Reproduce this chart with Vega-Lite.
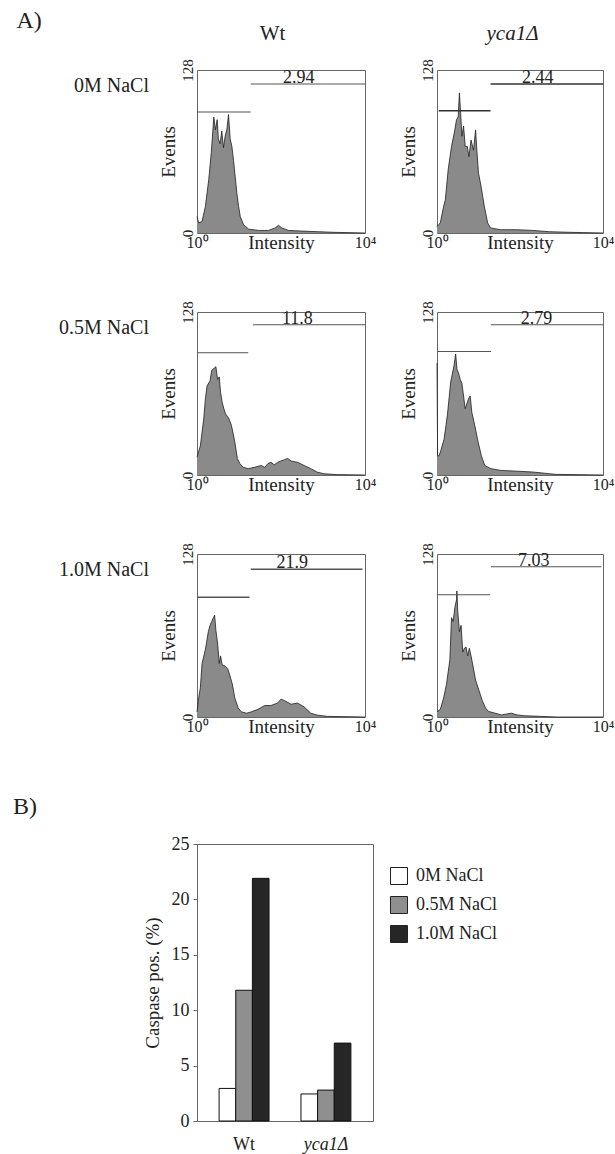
{
 "$schema": "https://vega.github.io/schema/vega-lite/v6.json",
 "padding": {"left": 12, "top": 8, "right": 5, "bottom": 5},
 "background": "white",
 "config": {
  "font": "Liberation Serif",
  "view": {"stroke": "#666"},
  "axis": {"labelColor": "#222", "titleColor": "#222", "titleFontWeight": "normal", "labelFont": "Liberation Serif", "titleFont": "Liberation Serif", "domainColor": "#666", "tickColor": "#666", "grid": false},
  "title": {"fontWeight": "normal", "color": "#222", "font": "Liberation Serif"},
  "legend": {"labelFont": "Liberation Serif", "labelColor": "#222"}
 },
 "datasets": {
  "hist": [
   {"p":"w0","x":0,"y":13},{"p":"w0","x":0.04,"y":8},{"p":"w0","x":0.12,"y":9},{"p":"w0","x":0.2,"y":21},{"p":"w0","x":0.28,"y":42},{"p":"w0","x":0.34,"y":63},{"p":"w0","x":0.4,"y":91},{"p":"w0","x":0.44,"y":81},{"p":"w0","x":0.48,"y":89},{"p":"w0","x":0.51,"y":74},{"p":"w0","x":0.55,"y":70},{"p":"w0","x":0.59,"y":80},{"p":"w0","x":0.63,"y":67},{"p":"w0","x":0.67,"y":76},{"p":"w0","x":0.71,"y":81},{"p":"w0","x":0.75,"y":93},{"p":"w0","x":0.79,"y":74},{"p":"w0","x":0.83,"y":68},{"p":"w0","x":0.87,"y":57},{"p":"w0","x":0.91,"y":44},{"p":"w0","x":0.95,"y":31},{"p":"w0","x":0.99,"y":21},{"p":"w0","x":1.03,"y":13},{"p":"w0","x":1.11,"y":6.5},{"p":"w0","x":1.23,"y":3},{"p":"w0","x":1.47,"y":2},{"p":"w0","x":1.7,"y":2},{"p":"w0","x":1.86,"y":4},{"p":"w0","x":1.94,"y":6},{"p":"w0","x":2.02,"y":4},{"p":"w0","x":2.18,"y":2},{"p":"w0","x":2.5,"y":1.5},{"p":"w0","x":2.89,"y":1},{"p":"w0","x":3.29,"y":0.5},{"p":"w0","x":4,"y":0},
   {"p":"w5","x":0,"y":14},{"p":"w5","x":0.08,"y":23},{"p":"w5","x":0.16,"y":44},{"p":"w5","x":0.2,"y":60},{"p":"w5","x":0.24,"y":70},{"p":"w5","x":0.31,"y":74},{"p":"w5","x":0.35,"y":82},{"p":"w5","x":0.41,"y":84},{"p":"w5","x":0.45,"y":85},{"p":"w5","x":0.49,"y":75},{"p":"w5","x":0.53,"y":77},{"p":"w5","x":0.56,"y":65},{"p":"w5","x":0.6,"y":57},{"p":"w5","x":0.64,"y":52},{"p":"w5","x":0.68,"y":48},{"p":"w5","x":0.75,"y":45},{"p":"w5","x":0.82,"y":39},{"p":"w5","x":0.9,"y":26},{"p":"w5","x":0.96,"y":13},{"p":"w5","x":1.02,"y":9},{"p":"w5","x":1.1,"y":6},{"p":"w5","x":1.22,"y":5},{"p":"w5","x":1.37,"y":6},{"p":"w5","x":1.53,"y":7.5},{"p":"w5","x":1.61,"y":6},{"p":"w5","x":1.69,"y":9},{"p":"w5","x":1.76,"y":10},{"p":"w5","x":1.84,"y":8},{"p":"w5","x":1.92,"y":10},{"p":"w5","x":2.0,"y":11},{"p":"w5","x":2.08,"y":12},{"p":"w5","x":2.16,"y":13},{"p":"w5","x":2.24,"y":11},{"p":"w5","x":2.39,"y":10},{"p":"w5","x":2.55,"y":7.5},{"p":"w5","x":2.71,"y":5},{"p":"w5","x":2.86,"y":2.3},{"p":"w5","x":3.02,"y":1},{"p":"w5","x":3.33,"y":0.3},{"p":"w5","x":4,"y":0},
   {"p":"w1","x":0,"y":4},{"p":"w1","x":0.04,"y":15},{"p":"w1","x":0.08,"y":23},{"p":"w1","x":0.12,"y":42},{"p":"w1","x":0.2,"y":53},{"p":"w1","x":0.27,"y":67},{"p":"w1","x":0.31,"y":72},{"p":"w1","x":0.35,"y":75},{"p":"w1","x":0.39,"y":78},{"p":"w1","x":0.42,"y":80},{"p":"w1","x":0.45,"y":68},{"p":"w1","x":0.49,"y":58},{"p":"w1","x":0.53,"y":42},{"p":"w1","x":0.56,"y":48},{"p":"w1","x":0.6,"y":41},{"p":"w1","x":0.67,"y":40},{"p":"w1","x":0.73,"y":38},{"p":"w1","x":0.78,"y":33},{"p":"w1","x":0.84,"y":26},{"p":"w1","x":0.9,"y":15},{"p":"w1","x":0.98,"y":7},{"p":"w1","x":1.06,"y":4},{"p":"w1","x":1.18,"y":3},{"p":"w1","x":1.29,"y":4},{"p":"w1","x":1.45,"y":6},{"p":"w1","x":1.61,"y":9},{"p":"w1","x":1.76,"y":9},{"p":"w1","x":1.92,"y":11},{"p":"w1","x":2.0,"y":14},{"p":"w1","x":2.08,"y":13},{"p":"w1","x":2.24,"y":10},{"p":"w1","x":2.39,"y":11},{"p":"w1","x":2.55,"y":8},{"p":"w1","x":2.71,"y":3},{"p":"w1","x":2.86,"y":1.5},{"p":"w1","x":3.1,"y":0.5},{"p":"w1","x":4,"y":0},
   {"p":"y0","x":0,"y":5},{"p":"y0","x":0.08,"y":8},{"p":"y0","x":0.16,"y":21},{"p":"y0","x":0.2,"y":26},{"p":"y0","x":0.27,"y":50},{"p":"y0","x":0.35,"y":68},{"p":"y0","x":0.43,"y":81},{"p":"y0","x":0.47,"y":89},{"p":"y0","x":0.51,"y":91},{"p":"y0","x":0.54,"y":110},{"p":"y0","x":0.57,"y":94},{"p":"y0","x":0.6,"y":76},{"p":"y0","x":0.64,"y":84},{"p":"y0","x":0.68,"y":68},{"p":"y0","x":0.73,"y":68},{"p":"y0","x":0.77,"y":60},{"p":"y0","x":0.82,"y":73},{"p":"y0","x":0.88,"y":65},{"p":"y0","x":0.93,"y":81},{"p":"y0","x":0.96,"y":65},{"p":"y0","x":1.0,"y":47},{"p":"y0","x":1.06,"y":37},{"p":"y0","x":1.14,"y":21},{"p":"y0","x":1.22,"y":8},{"p":"y0","x":1.29,"y":4},{"p":"y0","x":1.53,"y":2.6},{"p":"y0","x":1.92,"y":2.6},{"p":"y0","x":2.31,"y":2},{"p":"y0","x":2.71,"y":1},{"p":"y0","x":3.25,"y":0.5},{"p":"y0","x":4,"y":0},
   {"p":"y5","x":0,"y":88},{"p":"y5","x":0.015,"y":15},{"p":"y5","x":0.05,"y":15},{"p":"y5","x":0.09,"y":19},{"p":"y5","x":0.17,"y":28},{"p":"y5","x":0.25,"y":47},{"p":"y5","x":0.33,"y":73},{"p":"y5","x":0.41,"y":86},{"p":"y5","x":0.45,"y":95},{"p":"y5","x":0.48,"y":83},{"p":"y5","x":0.52,"y":80},{"p":"y5","x":0.56,"y":75},{"p":"y5","x":0.6,"y":72},{"p":"y5","x":0.68,"y":52},{"p":"y5","x":0.76,"y":60},{"p":"y5","x":0.8,"y":62},{"p":"y5","x":0.84,"y":49},{"p":"y5","x":0.91,"y":39},{"p":"y5","x":0.99,"y":26},{"p":"y5","x":1.07,"y":15},{"p":"y5","x":1.15,"y":7.5},{"p":"y5","x":1.3,"y":5},{"p":"y5","x":1.54,"y":3.6},{"p":"y5","x":1.93,"y":3},{"p":"y5","x":2.32,"y":2.3},{"p":"y5","x":2.71,"y":1},{"p":"y5","x":2.87,"y":0.5},{"p":"y5","x":4,"y":0},
   {"p":"y1","x":0,"y":4},{"p":"y1","x":0.08,"y":6},{"p":"y1","x":0.16,"y":15},{"p":"y1","x":0.23,"y":26},{"p":"y1","x":0.31,"y":45},{"p":"y1","x":0.35,"y":78},{"p":"y1","x":0.39,"y":75},{"p":"y1","x":0.43,"y":86},{"p":"y1","x":0.47,"y":92},{"p":"y1","x":0.48,"y":99},{"p":"y1","x":0.5,"y":83},{"p":"y1","x":0.54,"y":67},{"p":"y1","x":0.58,"y":72},{"p":"y1","x":0.62,"y":51},{"p":"y1","x":0.66,"y":54},{"p":"y1","x":0.7,"y":55},{"p":"y1","x":0.74,"y":48},{"p":"y1","x":0.78,"y":54},{"p":"y1","x":0.82,"y":48},{"p":"y1","x":0.85,"y":43},{"p":"y1","x":0.93,"y":29},{"p":"y1","x":1.01,"y":21},{"p":"y1","x":1.09,"y":13},{"p":"y1","x":1.17,"y":7},{"p":"y1","x":1.24,"y":4.4},{"p":"y1","x":1.4,"y":3},{"p":"y1","x":1.55,"y":1.6},{"p":"y1","x":1.79,"y":3},{"p":"y1","x":1.94,"y":1.6},{"p":"y1","x":2.1,"y":1},{"p":"y1","x":2.49,"y":0.5},{"p":"y1","x":2.87,"y":0},{"p":"y1","x":4,"y":0}
  ],
  "gate": [
   {"p":"w0","a":0,"b":1.28,"y":95},{"p":"w0","a":1.28,"b":4,"y":117,"lab":"2.94","lx":2.42},
   {"p":"w5","a":0,"b":1.22,"y":96},{"p":"w5","a":1.33,"b":4,"y":118,"lab":"11.8","lx":2.39},
   {"p":"w1","a":0,"b":1.25,"y":94},{"p":"w1","a":1.28,"b":3.94,"y":116,"lab":"21.9","lx":2.27},
   {"p":"y0","a":0.04,"b":1.29,"y":96},{"p":"y0","a":1.29,"b":4,"y":117,"lab":"2.44","lx":2.43},
   {"p":"y5","a":0,"b":1.3,"y":97},{"p":"y5","a":1.3,"b":4,"y":118,"lab":"2.79","lx":2.4},
   {"p":"y1","a":0,"b":1.28,"y":96},{"p":"y1","a":1.3,"b":3.96,"y":118,"lab":"7.03","lx":2.33}
  ],
  "bars": [
   {"strain":"Wt","salt":"0M NaCl","pct":2.94},
   {"strain":"Wt","salt":"0.5M NaCl","pct":11.8},
   {"strain":"Wt","salt":"1.0M NaCl","pct":21.9},
   {"strain":"yca1Δ","salt":"0M NaCl","pct":2.44},
   {"strain":"yca1Δ","salt":"0.5M NaCl","pct":2.79},
   {"strain":"yca1Δ","salt":"1.0M NaCl","pct":7.03}
  ]
 },
 "columns": 1,
 "align": "none",
 "spacing": 57,
 "resolve": {"legend": {"fill": "independent"}},
 "concat": [
  {
   "title": {"text": "A)", "anchor": "start", "dx": -42, "offset": -11, "fontSize": 24},
   "columns": 2,
   "bounds": "flush",
   "spacing": {"row": 79, "column": 72},
   "concat": [
    {
     "width": 168, "height": 163,
     "title": {"text": "0M NaCl", "orient": "left", "frame": "group", "angle": 0, "anchor": "end", "align": "left", "baseline": "top", "offset": 10, "dy": 6, "fontSize": 20},
     "resolve": {"axis": {"x": "independent"}},
     "layer": [
      {"data": {"name": "hist"}, "transform": [{"filter": "datum.p === 'w0'"}],
       "mark": {"type": "area", "color": "#8a8a8a", "opacity": 1, "line": {"color": "#1e1e1e", "strokeWidth": 0.8}},
       "encoding": {
        "x": {"field": "x", "type": "quantitative", "scale": {"domain": [0, 4], "nice": false}, "axis": {"values": [0, 4], "labelExpr": "datum.value === 0 ? '10⁰' : '10⁴'", "title": "Intensity", "titleFontSize": 19, "titlePadding": -17, "labelFontSize": 16, "labelFlush": false, "ticks": false, "domain": false, "labelPadding": 1}},
        "y": {"field": "y", "type": "quantitative", "scale": {"domain": [0, 128], "nice": false}, "axis": {"values": [0, 128], "title": "Events", "titleFontSize": 19, "labelAngle": 270, "labelFontSize": 15, "ticks": false, "domain": false, "labelPadding": 2, "titlePadding": 2}}
       }},
      {"data": {"name": "gate"}, "transform": [{"filter": "datum.p === 'w0'"}],
       "mark": {"type": "rule", "color": "#555", "strokeWidth": 1.2},
       "encoding": {
        "x": {"field": "a", "type": "quantitative", "scale": {"domain": [0, 4], "nice": false}, "axis": {"orient": "top", "title": "Wt", "titleFontSize": 21, "titleX": 75, "labels": false, "ticks": false, "domain": false, "titlePadding": 27}},
        "x2": {"field": "b"},
        "y": {"field": "y", "type": "quantitative"}
       }},
      {"data": {"name": "gate"}, "transform": [{"filter": "datum.p === 'w0' && datum.lab"}],
       "mark": {"type": "text", "fontSize": 18, "baseline": "alphabetic", "dy": -1, "color": "#222"},
       "encoding": {
        "x": {"field": "lx", "type": "quantitative", "axis": null},
        "y": {"field": "y", "type": "quantitative"},
        "text": {"field": "lab"}
       }}
     ]
    },
    {
     "width": 166, "height": 163,
     "resolve": {"axis": {"x": "independent"}},
     "layer": [
      {"data": {"name": "hist"}, "transform": [{"filter": "datum.p === 'y0'"}],
       "mark": {"type": "area", "color": "#8a8a8a", "opacity": 1, "line": {"color": "#1e1e1e", "strokeWidth": 0.8}},
       "encoding": {
        "x": {"field": "x", "type": "quantitative", "scale": {"domain": [0, 4], "nice": false}, "axis": {"values": [0, 4], "labelExpr": "datum.value === 0 ? '10⁰' : '10⁴'", "title": "Intensity", "titleFontSize": 19, "titlePadding": -17, "labelFontSize": 16, "labelFlush": false, "ticks": false, "domain": false, "labelPadding": 1}},
        "y": {"field": "y", "type": "quantitative", "scale": {"domain": [0, 128], "nice": false}, "axis": {"values": [0, 128], "title": "Events", "titleFontSize": 19, "labelAngle": 270, "labelFontSize": 15, "ticks": false, "domain": false, "labelPadding": 2, "titlePadding": 2}}
       }},
      {"data": {"name": "gate"}, "transform": [{"filter": "datum.p === 'y0'"}],
       "mark": {"type": "rule", "color": "#333", "strokeWidth": 1.4},
       "encoding": {
        "x": {"field": "a", "type": "quantitative", "scale": {"domain": [0, 4], "nice": false}, "axis": {"orient": "top", "title": "yca1Δ", "titleFontStyle": "italic", "titleFontSize": 21, "titleX": 75, "labels": false, "ticks": false, "domain": false, "titlePadding": 27}},
        "x2": {"field": "b"},
        "y": {"field": "y", "type": "quantitative"}
       }},
      {"data": {"name": "gate"}, "transform": [{"filter": "datum.p === 'y0' && datum.lab"}],
       "mark": {"type": "text", "fontSize": 18, "baseline": "alphabetic", "dy": -1, "color": "#222"},
       "encoding": {
        "x": {"field": "lx", "type": "quantitative", "axis": null},
        "y": {"field": "y", "type": "quantitative"},
        "text": {"field": "lab"}
       }}
     ]
    },
    {
     "width": 168, "height": 163,
     "title": {"text": "0.5M NaCl", "orient": "left", "frame": "group", "angle": 0, "anchor": "end", "align": "left", "baseline": "top", "offset": 10, "dy": 6, "fontSize": 20},
     "layer": [
      {"data": {"name": "hist"}, "transform": [{"filter": "datum.p === 'w5'"}],
       "mark": {"type": "area", "color": "#8a8a8a", "opacity": 1, "line": {"color": "#1e1e1e", "strokeWidth": 0.8}},
       "encoding": {
        "x": {"field": "x", "type": "quantitative", "scale": {"domain": [0, 4], "nice": false}, "axis": {"values": [0, 4], "labelExpr": "datum.value === 0 ? '10⁰' : '10⁴'", "title": "Intensity", "titleFontSize": 19, "titlePadding": -17, "labelFontSize": 16, "labelFlush": false, "ticks": false, "domain": false, "labelPadding": 1}},
        "y": {"field": "y", "type": "quantitative", "scale": {"domain": [0, 128], "nice": false}, "axis": {"values": [0, 128], "title": "Events", "titleFontSize": 19, "labelAngle": 270, "labelFontSize": 15, "ticks": false, "domain": false, "labelPadding": 2, "titlePadding": 2}}
       }},
      {"data": {"name": "gate"}, "transform": [{"filter": "datum.p === 'w5'"}],
       "mark": {"type": "rule", "color": "#555", "strokeWidth": 1.2},
       "encoding": {
        "x": {"field": "a", "type": "quantitative", "scale": {"domain": [0, 4], "nice": false}},
        "x2": {"field": "b"},
        "y": {"field": "y", "type": "quantitative"}
       }},
      {"data": {"name": "gate"}, "transform": [{"filter": "datum.p === 'w5' && datum.lab"}],
       "mark": {"type": "text", "fontSize": 18, "baseline": "alphabetic", "dy": -1, "color": "#222"},
       "encoding": {
        "x": {"field": "lx", "type": "quantitative"},
        "y": {"field": "y", "type": "quantitative"},
        "text": {"field": "lab"}
       }}
     ]
    },
    {
     "width": 166, "height": 163,
     "layer": [
      {"data": {"name": "hist"}, "transform": [{"filter": "datum.p === 'y5'"}],
       "mark": {"type": "area", "color": "#8a8a8a", "opacity": 1, "line": {"color": "#1e1e1e", "strokeWidth": 0.8}},
       "encoding": {
        "x": {"field": "x", "type": "quantitative", "scale": {"domain": [0, 4], "nice": false}, "axis": {"values": [0, 4], "labelExpr": "datum.value === 0 ? '10⁰' : '10⁴'", "title": "Intensity", "titleFontSize": 19, "titlePadding": -17, "labelFontSize": 16, "labelFlush": false, "ticks": false, "domain": false, "labelPadding": 1}},
        "y": {"field": "y", "type": "quantitative", "scale": {"domain": [0, 128], "nice": false}, "axis": {"values": [0, 128], "title": "Events", "titleFontSize": 19, "labelAngle": 270, "labelFontSize": 15, "ticks": false, "domain": false, "labelPadding": 2, "titlePadding": 2}}
       }},
      {"data": {"name": "gate"}, "transform": [{"filter": "datum.p === 'y5'"}],
       "mark": {"type": "rule", "color": "#555", "strokeWidth": 1.2},
       "encoding": {
        "x": {"field": "a", "type": "quantitative", "scale": {"domain": [0, 4], "nice": false}},
        "x2": {"field": "b"},
        "y": {"field": "y", "type": "quantitative"}
       }},
      {"data": {"name": "gate"}, "transform": [{"filter": "datum.p === 'y5' && datum.lab"}],
       "mark": {"type": "text", "fontSize": 18, "baseline": "alphabetic", "dy": -1, "color": "#222"},
       "encoding": {
        "x": {"field": "lx", "type": "quantitative"},
        "y": {"field": "y", "type": "quantitative"},
        "text": {"field": "lab"}
       }}
     ]
    },
    {
     "width": 168, "height": 163,
     "title": {"text": "1.0M NaCl", "orient": "left", "frame": "group", "angle": 0, "anchor": "end", "align": "left", "baseline": "top", "offset": 10, "dy": 6, "fontSize": 20},
     "layer": [
      {"data": {"name": "hist"}, "transform": [{"filter": "datum.p === 'w1'"}],
       "mark": {"type": "area", "color": "#8a8a8a", "opacity": 1, "line": {"color": "#1e1e1e", "strokeWidth": 0.8}},
       "encoding": {
        "x": {"field": "x", "type": "quantitative", "scale": {"domain": [0, 4], "nice": false}, "axis": {"values": [0, 4], "labelExpr": "datum.value === 0 ? '10⁰' : '10⁴'", "title": "Intensity", "titleFontSize": 19, "titlePadding": -17, "labelFontSize": 16, "labelFlush": false, "ticks": false, "domain": false, "labelPadding": 1}},
        "y": {"field": "y", "type": "quantitative", "scale": {"domain": [0, 128], "nice": false}, "axis": {"values": [0, 128], "title": "Events", "titleFontSize": 19, "labelAngle": 270, "labelFontSize": 15, "ticks": false, "domain": false, "labelPadding": 2, "titlePadding": 2}}
       }},
      {"data": {"name": "gate"}, "transform": [{"filter": "datum.p === 'w1'"}],
       "mark": {"type": "rule", "color": "#555", "strokeWidth": 1.6},
       "encoding": {
        "x": {"field": "a", "type": "quantitative", "scale": {"domain": [0, 4], "nice": false}},
        "x2": {"field": "b"},
        "y": {"field": "y", "type": "quantitative"}
       }},
      {"data": {"name": "gate"}, "transform": [{"filter": "datum.p === 'w1' && datum.lab"}],
       "mark": {"type": "text", "fontSize": 18, "baseline": "alphabetic", "dy": -1, "color": "#222"},
       "encoding": {
        "x": {"field": "lx", "type": "quantitative"},
        "y": {"field": "y", "type": "quantitative"},
        "text": {"field": "lab"}
       }}
     ]
    },
    {
     "width": 166, "height": 163,
     "layer": [
      {"data": {"name": "hist"}, "transform": [{"filter": "datum.p === 'y1'"}],
       "mark": {"type": "area", "color": "#8a8a8a", "opacity": 1, "line": {"color": "#1e1e1e", "strokeWidth": 0.8}},
       "encoding": {
        "x": {"field": "x", "type": "quantitative", "scale": {"domain": [0, 4], "nice": false}, "axis": {"values": [0, 4], "labelExpr": "datum.value === 0 ? '10⁰' : '10⁴'", "title": "Intensity", "titleFontSize": 19, "titlePadding": -17, "labelFontSize": 16, "labelFlush": false, "ticks": false, "domain": false, "labelPadding": 1}},
        "y": {"field": "y", "type": "quantitative", "scale": {"domain": [0, 128], "nice": false}, "axis": {"values": [0, 128], "title": "Events", "titleFontSize": 19, "labelAngle": 270, "labelFontSize": 15, "ticks": false, "domain": false, "labelPadding": 2, "titlePadding": 2}}
       }},
      {"data": {"name": "gate"}, "transform": [{"filter": "datum.p === 'y1'"}],
       "mark": {"type": "rule", "color": "#555", "strokeWidth": 1.2},
       "encoding": {
        "x": {"field": "a", "type": "quantitative", "scale": {"domain": [0, 4], "nice": false}},
        "x2": {"field": "b"},
        "y": {"field": "y", "type": "quantitative"}
       }},
      {"data": {"name": "gate"}, "transform": [{"filter": "datum.p === 'y1' && datum.lab"}],
       "mark": {"type": "text", "fontSize": 18, "baseline": "alphabetic", "dy": -1, "color": "#222"},
       "encoding": {
        "x": {"field": "lx", "type": "quantitative"},
        "y": {"field": "y", "type": "quantitative"},
        "text": {"field": "lab"}
       }}
     ]
    }
   ]
  },
  {
   "title": {"text": "B)", "anchor": "start", "dx": -130, "fontSize": 24, "offset": 16},
   "width": 176, "height": 277,
   "data": {"name": "bars"},
   "mark": {"type": "bar", "stroke": "#111", "strokeWidth": 1},
   "encoding": {
    "x": {"field": "strain", "type": "nominal", "sort": ["Wt", "yca1Δ"], "scale": {"paddingInner": 0.39, "paddingOuter": 0.27},
     "axis": {"title": null, "labelAngle": 0, "ticks": false, "domain": false, "labelFontSize": 18, "labelPadding": 14,
      "labelFontStyle": {"condition": {"test": "datum.value === 'yca1Δ'", "value": "italic"}, "value": "normal"}}},
    "xOffset": {"field": "salt", "type": "nominal", "sort": ["0M NaCl", "0.5M NaCl", "1.0M NaCl"], "scale": {"paddingInner": 0, "paddingOuter": 0}},
    "y": {"field": "pct", "type": "quantitative", "scale": {"domain": [0, 25], "nice": false},
     "axis": {"values": [0, 5, 10, 15, 20, 25], "title": "Caspase pos. (%)", "titleFontSize": 19, "labelFontSize": 18, "tickSize": 4, "labelPadding": 4, "titlePadding": 9}},
    "fill": {"field": "salt", "type": "nominal", "sort": ["0M NaCl", "0.5M NaCl", "1.0M NaCl"], "scale": {"range": ["#ffffff", "#8f8f8f", "#262626"]},
     "legend": {"title": null, "orient": "none", "legendX": 193, "legendY": 23, "symbolType": "square", "symbolSize": 289, "symbolStrokeColor": "#222", "symbolStrokeWidth": 1, "symbolOpacity": 1, "labelFontSize": 18, "rowPadding": 7, "labelOffset": 8}}
   }
  }
 ]
}
